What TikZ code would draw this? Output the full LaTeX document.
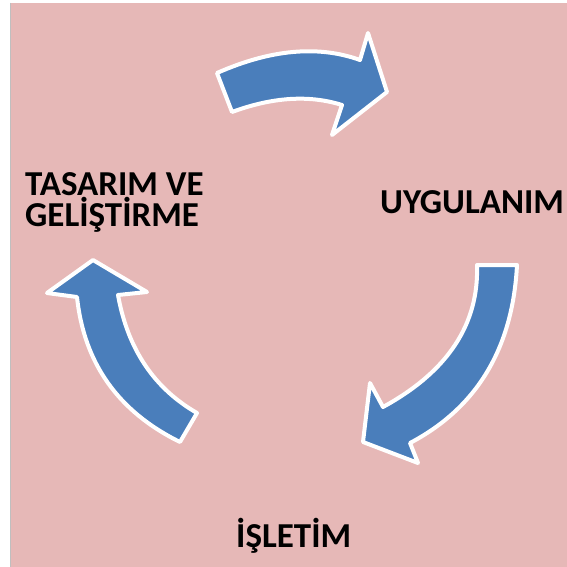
\documentclass[tikz,border=0pt]{standalone}
\usepackage{fontspec}
\setmainfont{Carlito}
\definecolor{bgpink}{HTML}{E6B8B7}
\definecolor{arrowblue}{HTML}{4A7EBB}
\definecolor{edgegray}{HTML}{BFBFBF}
\begin{document}
\begin{tikzpicture}[x=1pt,y=-1pt,
  cyclearrow/.style={fill=arrowblue,draw=white,line width=4pt,line join=round},
  label/.style={font=\bfseries\fontsize{35}{31}\selectfont,text=black,inner sep=0pt}]
\useasboundingbox (0,0) rectangle (567,567);
\fill[white] (0,0) rectangle (567,567);
\fill[bgpink] (10,3) rectangle (567,567);
\draw[edgegray,line width=1.2pt] (10.5,3) -- (10.5,567);
% top arrow
\filldraw[cyclearrow] (217,73) .. controls (270.7,49.3) and (318.3,45) .. (360,60)
  -- (368,33) -- (387,92) -- (332,135) -- (342,105)
  .. controls (309.3,94.7) and (272.7,97) .. (232,112) -- cycle;
% right arrow
\filldraw[cyclearrow] (517,265) .. controls (512.7,348.3) and (477,407.7) .. (410,443)
  -- (418,463) -- (363,442) -- (370,383) -- (383,407)
  .. controls (447.7,371.7) and (479,324.3) .. (477,265) -- cycle;
% left arrow
\filldraw[cyclearrow] (197,413) .. controls (154,388.3) and (127.7,349) .. (118,295)
  -- (147,292) -- (93,260) -- (47,293) -- (77,297)
  .. controls (84,363.3) and (118.3,411.7) .. (180,442) -- cycle;
% labels
\node[label,align=left,anchor=north west] (design) at (25,172) {TASARIM VE\\GELİŞTİRME};
\node[label,anchor=base west] (impl) at (380,213) {UYGULANIM};
\node[label,anchor=base west] (ops) at (236,547) {İŞLETİM};
\end{tikzpicture}
\end{document}
